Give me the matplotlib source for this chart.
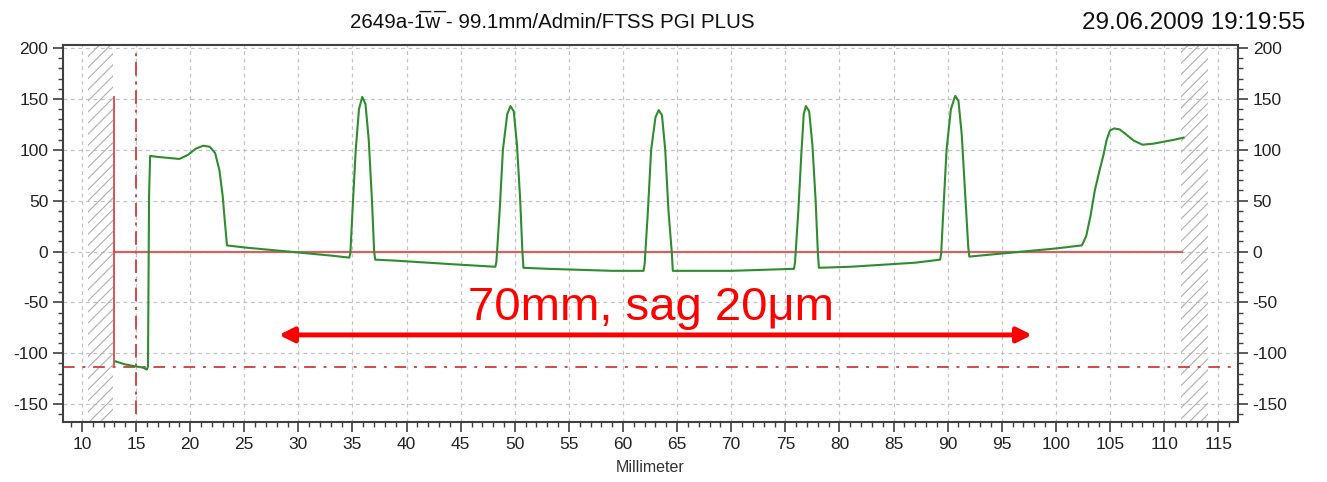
import matplotlib.pyplot as plt
import numpy as np
from matplotlib.ticker import MultipleLocator

plt.rcParams['font.family'] = ['Liberation Sans', 'DejaVu Sans']
plt.rcParams['axes.unicode_minus'] = False
plt.rcParams['hatch.linewidth'] = 0.8

# measured profile (position in mm, height in um)
pos_mm = [13.1, 14.0, 15.0, 15.6, 16.0, 16.1, 16.2, 16.3, 17.0, 18.0, 19.0, 19.8, 20.5, 21.2,
          21.8, 22.3, 22.7, 23.0, 23.2, 23.4, 25.0, 27.0, 29.0, 31.0, 33.0, 34.7,
          34.8, 35.0, 35.3, 35.6, 35.9, 36.2, 36.5, 36.8, 37.0, 37.1, 39.0, 42.0, 45.0, 48.2,
          48.3, 48.6, 48.9, 49.3, 49.6, 49.9, 50.2, 50.5, 50.7, 50.8, 53.0, 56.0, 59.0, 61.9,
          62.0, 62.3, 62.6, 63.0, 63.3, 63.6, 63.9, 64.2, 64.5, 64.6, 67.0, 70.0, 73.0, 75.8,
          75.9, 76.2, 76.5, 76.7, 76.9, 77.2, 77.5, 77.8, 78.0, 78.1, 81.0, 84.0, 87.0, 89.3,
          89.4, 89.6, 89.9, 90.3, 90.7, 91.0, 91.3, 91.6, 91.9, 92.0, 94.0, 96.0, 98.0, 100.0,
          102.4, 102.8, 103.2, 103.6, 104.0, 104.4, 104.7, 105.0, 105.4, 105.9, 106.5, 107.2,
          108.0, 109.0, 110.0, 111.0, 111.8]
height_um = [-108, -111, -113, -114, -116, -113, 55, 94, 93, 92, 91, 95, 101, 104,
             103, 97, 80, 55, 30, 6, 4, 2, 0, -2, -4, -6,
             -2, 40, 100, 140, 152, 145, 110, 50, 0, -8, -9, -11, -13, -15,
             -10, 40, 100, 135, 143, 138, 105, 50, 0, -16, -17, -18, -19, -19,
             -12, 40, 100, 132, 139, 134, 100, 40, 0, -19, -19, -19, -18, -17,
             -10, 40, 100, 135, 143, 138, 105, 50, 0, -16, -15, -13, -11, -8,
             -2, 40, 100, 140, 153, 148, 115, 60, 5, -5, -3, -1, 1, 3,
             6, 15, 35, 60, 78, 95, 110, 119, 121, 120, 115, 109,
             105, 106, 108, 110, 112]

# evaluation limits and reference levels
excluded_left = (10.55, 12.85)
excluded_right = (111.55, 114.05)
start_mm, end_mm = 13.0, 111.7
marker_mm = 15.0
lower_level = -114
span_mm = (28.2, 97.8)

fig = plt.figure(figsize=(13.27, 4.82), dpi=100)
ax = fig.add_axes([0.0475, 0.1245, 0.8855, 0.7821])

ax.set_xlim(8.25, 116.84)
ax.set_ylim(-167.6, 203)

for lo, hi in (excluded_left, excluded_right):
    ax.axvspan(lo, hi, facecolor='none', edgecolor='#b0b0b0', hatch='///', linewidth=0, zorder=1)

red = '#d24a4a'
ax.plot([start_mm, end_mm], [0, 0], color='#d06464', lw=1.6, zorder=2)
ax.plot([start_mm, start_mm], [-112, 152], color='#d84848', lw=1.3, zorder=2)
l1, = ax.plot([marker_mm, marker_mm], [-160, 200], color=red, lw=1.4, zorder=2)
l1.set_dashes((7, 3, 1.5, 3))
l2 = ax.axhline(lower_level, color=red, lw=1.4, zorder=2)
l2.set_dashes((6, 4, 1.5, 4))

ax.plot(pos_mm, height_um, color='#2f8c2f', lw=1.5, zorder=3)

ax.annotate('', xy=(span_mm[0], -82), xytext=(span_mm[1], -82),
            arrowprops=dict(arrowstyle='<|-|>', color='#ff0000', lw=3.5,
                            mutation_scale=22, shrinkA=0, shrinkB=0), zorder=4)
ax.text(62.6, -67.5, '70mm, sag 20\u03bcm', color='#ff0000', fontsize=34,
        ha='center', va='baseline', zorder=4)

ax.xaxis.set_minor_locator(MultipleLocator(1))
ax.yaxis.set_minor_locator(MultipleLocator(10))
ax.set_xticks(np.arange(10, 116, 5))
ax.set_yticks(np.arange(-150, 201, 50))
ax.tick_params(which='both', direction='out', colors='#404040', labelcolor='#222222',
               labelsize=12.5, left=True, right=True, labelright=True, top=False)
ax.tick_params(which='major', length=7, width=1.2)
ax.tick_params(which='minor', length=3.5, width=1.0)
ax.grid(True, which='major', color='#c4c4c4', linestyle=(0, (3, 3)), lw=0.9, zorder=0)
ax.set_axisbelow(True)
for s in ax.spines.values():
    s.set_color('#404040')
    s.set_linewidth(1.5)

ax.set_xlabel('Millimeter', fontsize=11.5, color='#333333', labelpad=6)

fig.text(0.2635, 0.942, '2649a-1\u0305w\u0305 - 99.1mm/Admin/FT\u0307SS PGI PLUS',
         fontsize=14.8, color='#111111', ha='left', va='baseline')
fig.text(0.8155, 0.939, '29.06.2009 19:19:55', fontsize=17.5, color='#111111',
         ha='left', va='baseline')

fig.savefig('out.png', dpi=100)
